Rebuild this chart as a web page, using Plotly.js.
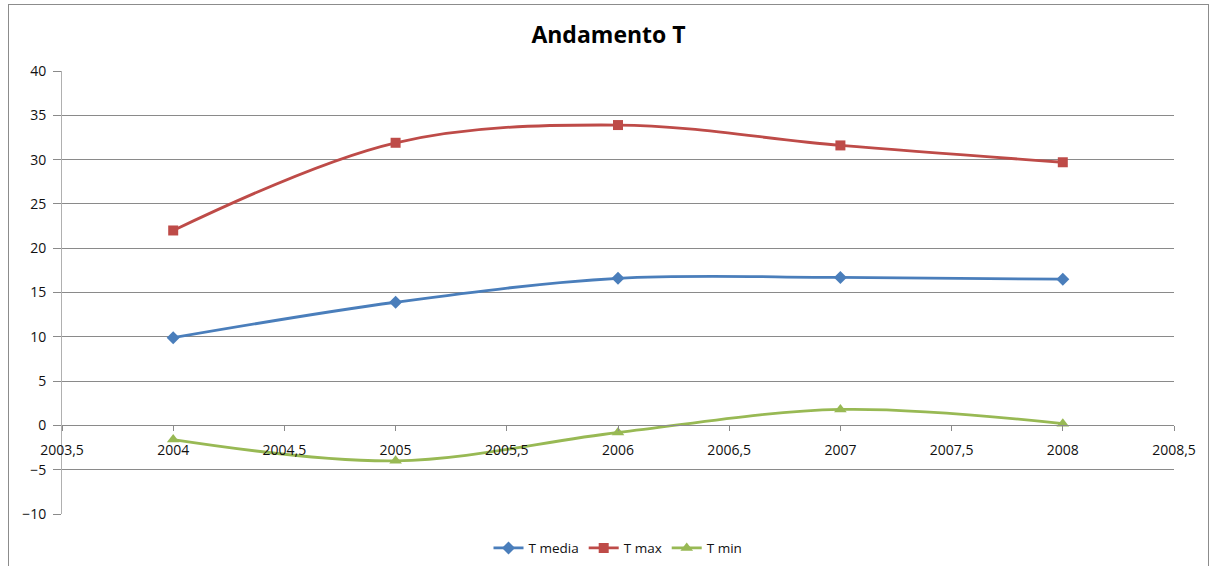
<!DOCTYPE html>
<html>
<head>
<meta charset="utf-8">
<script src="https://cdn.plot.ly/plotly-3.0.1.min.js"></script>
<style>
  html, body { margin: 0; padding: 0; background: #ffffff; overflow: hidden; }
  #frame {
    position: absolute; left: 8px; top: 4px;
    width: 1199px; height: 600px;
    border: 1px solid #8c8c8c;
  }
  #chart { width: 1199px; height: 600px; }
</style>
</head>
<body>
<div id="frame"><div id="chart"></div></div>
<script>
// Annual temperatures (°C)
const years  = [2004, 2005, 2006, 2007, 2008];
const tMedia = [9.9, 13.9, 16.6, 16.7, 16.5];
const tMax   = [22.0, 31.9, 33.9, 31.6, 29.7];
const tMin   = [-1.6, -4.0, -0.8, 1.8, 0.2];
const seriesNames = ["T media", "T max", "T min"];

// Horizontal axis ticks, with the comma as decimal mark
const xTickVals = [2003.5, 2004, 2004.5, 2005, 2005.5, 2006, 2006.5, 2007, 2007.5, 2008, 2008.5];
const xTickText = ["2003,5", "2004", "2004,5", "2005", "2005,5", "2006", "2006,5", "2007", "2007,5", "2008", "2008,5"];

const fontFamily = "'Open Sans', 'Noto Sans', sans-serif";
const gridGray = "#8a8a8a";
const textColor = "#111111";

function series(name, y, color, symbol, size) {
  return {
    type: "scatter",
    mode: "lines+markers",
    name: name,
    x: years,
    y: y,
    line: { color: color, width: 2.8, shape: "spline", smoothing: 1 },
    marker: { color: color, symbol: symbol, size: size, line: { width: 0 } }
  };
}

const traces = [
  series(seriesNames[0], tMedia, "#4a7ebb", "diamond", 10),
  series(seriesNames[1], tMax,   "#be4b48", "square", 10),
  series(seriesNames[2], tMin,   "#98b954", "triangle-up", 11)
];

const layout = {
  width: 1199,
  height: 600,
  margin: { l: 53, r: 34, t: 66, b: 91 },
  paper_bgcolor: "#ffffff",
  plot_bgcolor: "#ffffff",
  font: { family: fontFamily, color: textColor, size: 14 },
  title: {
    text: "<b>Andamento T</b>",
    font: { family: fontFamily, size: 23, color: "#000000" },
    xref: "container", x: 0.5, xanchor: "center",
    yref: "container", y: 0.95, yanchor: "middle"
  },
  xaxis: {
    range: [2003.5, 2008.5],
    tickmode: "array",
    tickvals: xTickVals,
    ticktext: xTickText,
    anchor: "free",
    position: 0.2,
    showgrid: false,
    zeroline: false,
    showline: true,
    linecolor: gridGray,
    linewidth: 1,
    ticks: "outside",
    ticklen: 5,
    tickcolor: gridGray,
    ticklabelstandoff: 7,
    tickfont: { family: fontFamily, size: 14, color: textColor }
  },
  yaxis: {
    range: [-10, 40],
    tick0: -10,
    dtick: 5,
    showgrid: true,
    gridcolor: gridGray,
    gridwidth: 1,
    zeroline: false,
    showline: true,
    linecolor: "#b0b0b0",
    linewidth: 1,
    ticks: "outside",
    ticklen: 8,
    tickcolor: gridGray,
    ticklabelstandoff: 4,
    tickfont: { family: fontFamily, size: 14, color: textColor }
  },
  showlegend: true,
  legend: {
    orientation: "h",
    x: 0.5, xanchor: "center",
    y: -0.077, yanchor: "middle",
    font: { family: fontFamily, size: 13.5, color: textColor },
    itemwidth: 30,
    bgcolor: "rgba(0,0,0,0)"
  }
};

Plotly.newPlot("chart", traces, layout, { displayModeBar: false, staticPlot: true });
</script>
</body>
</html>
